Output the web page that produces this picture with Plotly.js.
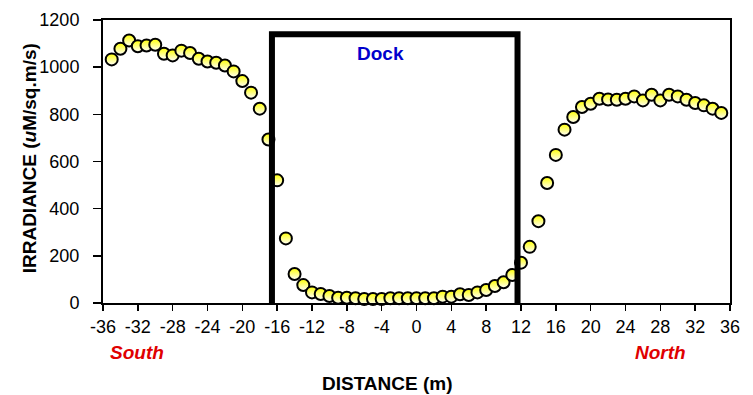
<!DOCTYPE html>
<html>
<head>
<meta charset="utf-8">
<script src="https://cdn.plot.ly/plotly-3.0.1.min.js"></script>
<style>html,body{margin:0;padding:0;background:#fff;}#chart{width:753px;height:395px;}</style>
</head>
<body>
<div id="chart"></div>
<script>
// Distance along transect (m)
var distance = [-35,-34,-33,-32,-31,-30,-29,-28,-27,-26,-25,-24,-23,-22,-21,-20,-19,-18,-17,-16,
  -15,-14,-13,-12,-11,-10,-9,-8,-7,-6,-5,-4,-3,-2,-1,0,1,2,3,4,5,6,7,8,9,10,11,12,13,14,15,16,17,
  18,19,20,21,22,23,24,25,26,27,28,29,30,31,32,33,34,35];
// Irradiance (uM/sq.m/s)
var irradiance = [1033,1078,1113,1089,1092,1095,1057,1050,1070,1060,1036,1024,1019,1007,982,941,892,824,693,520,
  274,123,76,45,38,30,22,22,20,17,17,17,20,20,20,20,20,20,27,27,37,34,45,55,72,88,119,171,238,347,509,628,735,
  789,831,845,866,863,862,866,876,859,883,859,883,876,862,848,838,824,806];
// Dock outline
var dockX = [-16.6, -16.6, 11.6, 11.6];
var dockY = [0, 1140, 1140, 0];
var xTicks = [-36,-32,-28,-24,-20,-16,-12,-8,-4,0,4,8,12,16,20,24,28,32,36];
var yTicks = [0,200,400,600,800,1000,1200];

var fontFam = 'Arial, "Liberation Sans", sans-serif';

var traces = [
  {
    x: distance, y: irradiance, type: 'scatter', mode: 'markers', cliponaxis: false,
    marker: {size: 12, color: '#FFFF00', line: {color: '#000', width: 2},
             gradient: {type: 'vertical', color: '#FFFFFF'}},
    hoverinfo: 'x+y'
  },
  {
    x: dockX, y: dockY, type: 'scatter', mode: 'lines', cliponaxis: false,
    line: {color: '#000', width: 6}, hoverinfo: 'skip'
  }
];

var layout = {
  width: 753, height: 395,
  margin: {l: 103, r: 23, t: 20, b: 92},
  paper_bgcolor: '#fff', plot_bgcolor: '#fff',
  showlegend: false,
  font: {family: fontFam, color: '#000', size: 18},
  xaxis: {
    range: [-36, 36], tickmode: 'array', tickvals: xTicks, ticktext: xTicks.map(String),
    showgrid: false, zeroline: false, showline: true, linecolor: '#000', linewidth: 2, mirror: true,
    ticks: 'outside', ticklen: 6, tickwidth: 1.5, tickcolor: '#000',
    tickfont: {family: fontFam, size: 18, color: '#000'}
  },
  yaxis: {
    range: [0, 1200], tickmode: 'array', tickvals: yTicks, ticktext: yTicks.map(String),
    showgrid: false, zeroline: false, showline: true, linecolor: '#000', linewidth: 2, mirror: true,
    ticks: 'outside', ticklen: 8, tickwidth: 1.5, tickcolor: '#000', ticklabelstandoff: 10,
    tickfont: {family: fontFam, size: 18, color: '#000'}
  },
  annotations: [
    {text: '<b>Dock</b>', x: -4.1, y: 1058, xref: 'x', yref: 'y', showarrow: false,
     font: {family: fontFam, size: 19, color: '#0000CC'}},
    {text: '<b><i>South</i></b>', x: -32.1, y: -0.176, xref: 'x', yref: 'paper', showarrow: false,
     xanchor: 'center', yanchor: 'middle', font: {family: fontFam, size: 19, color: '#E00000'}},
    {text: '<b><i>North</i></b>', x: 28.0, y: -0.176, xref: 'x', yref: 'paper', showarrow: false,
     xanchor: 'center', yanchor: 'middle', font: {family: fontFam, size: 19, color: '#E00000'}},
    {text: '<b>DISTANCE (m)</b>', x: 0.453, y: -0.286, xref: 'paper', yref: 'paper', showarrow: false,
     xanchor: 'center', yanchor: 'middle', font: {family: fontFam, size: 19, color: '#000'}},
    {text: '<b>IRRADIANCE (<i>u</i>M/sq.m/s)</b>', x: -0.117, y: 0.51, xref: 'paper', yref: 'paper',
     showarrow: false, textangle: -90, xanchor: 'center', yanchor: 'middle',
     font: {family: fontFam, size: 19, color: '#000'}}
  ]
};

Plotly.newPlot('chart', traces, layout, {displayModeBar: false, staticPlot: true});
</script>
</body>
</html>
